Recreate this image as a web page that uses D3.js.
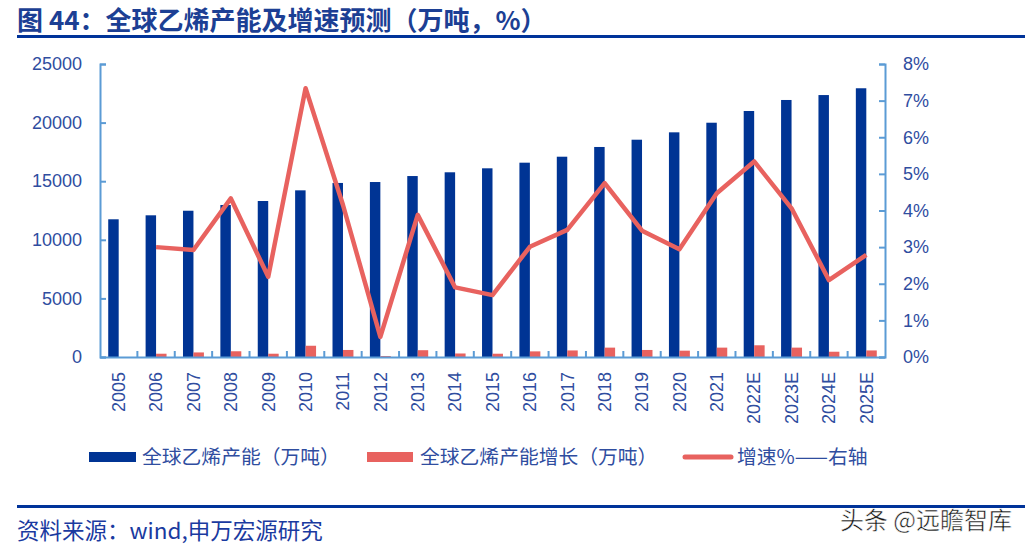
<!DOCTYPE html>
<html>
<head>
<meta charset="utf-8">
<script src="https://cdn.jsdelivr.net/npm/d3@7"></script>
<style>
  body { margin: 0; background: #fff; }
  text { font-family: "Liberation Sans", Arial, "Noto Sans CJK SC", sans-serif; }
  .cjk { font-family: "Noto Sans CJK SC", "Liberation Sans", sans-serif; }
</style>
</head>
<body>
<div id="chart-area"></div>
<script>
// data
var years = ["2005","2006","2007","2008","2009","2010","2011","2012","2013","2014","2015",
             "2016","2017","2018","2019","2020","2021","2022E","2023E","2024E","2025E"]
var capacity = [11750,12090,12480,12970,13310,14220,14850,14930,15440,15760,16100,
                16580,17090,17920,18540,19170,19990,20990,21930,22350,22930]
var growth = [0,280,390,490,280,960,600,80,580,300,280,
              480,560,800,600,540,800,1000,800,450,560]
var rate = [null,3.0,2.92,4.33,2.19,7.34,4.15,0.55,3.88,1.9,1.69,
            3.01,3.47,4.75,3.45,2.94,4.47,5.34,4.06,2.1,2.79]
var leftTicks = [0,5000,10000,15000,20000,25000]
var rightTicks = [0,1,2,3,4,5,6,7,8]

var navy = "#003494"
var coral = "#e8625f"
var axisColor = "#5b9bd5"
var labelColor = "#2f4d9f"

//Canvas
var svg = d3.select("#chart-area")
    .append("svg")
        .attr("width",1025)
        .attr("height",550)

//Title + rules
svg.append("text")
    .attr("class","cjk")
    .attr("x",17)
    .attr("y",30)
    .attr("font-size","26px")
    .attr("font-weight","bold")
    .attr("fill","#1c3f94")
    .text("图 44：全球乙烯产能及增速预测（万吨，%）")

svg.append("rect").attr("x",17).attr("y",35).attr("width",1008).attr("height",3).attr("fill","#003399")
svg.append("rect").attr("x",17).attr("y",505).attr("width",1008).attr("height",3).attr("fill","#003399")

svg.append("text")
    .attr("class","cjk")
    .attr("x",17)
    .attr("y",539)
    .attr("font-size","22.5px")
    .attr("fill","#1a3aa0")
    .text("资料来源：wind,申万宏源研究")

svg.append("text")
    .attr("class","cjk")
    .attr("x",1012)
    .attr("y",529)
    .attr("text-anchor","end")
    .attr("font-size","24px")
    .attr("fill","#111")
    .attr("stroke","#fff")
    .attr("stroke-width",0.5)
    .text("头条 @远瞻智库")

//Scales
var x = d3.scaleBand()
    .domain(years)
    .range([100,885])
    .paddingInner(0.44)
    .paddingOuter(0.22)

var x1 = d3.scaleBand()
    .domain(["cap","inc"])
    .range([0,x.bandwidth()])

var y = d3.scaleLinear().domain([0,25000]).range([357,64])
var y2 = d3.scaleLinear().domain([0,8]).range([357,64])

//Bars
svg.append("g").selectAll("rect")
    .data(years)
    .enter().append("rect")
        .attr("x",(d)=>x(d) + x1("cap"))
        .attr("y",(d,i)=>y(capacity[i]))
        .attr("width",x1.bandwidth())
        .attr("height",(d,i)=>y(0) - y(capacity[i]))
        .attr("fill",navy)

svg.append("g").selectAll("rect")
    .data(years)
    .enter().append("rect")
        .attr("x",(d)=>x(d) + x1("inc"))
        .attr("y",(d,i)=>y(growth[i]))
        .attr("width",x1.bandwidth())
        .attr("height",(d,i)=>y(0) - y(growth[i]))
        .attr("fill",coral)

//Axes
var leftAxis = svg.append("g")
    .attr("transform","translate(100,0)")
    .call(d3.axisLeft(y).tickValues(leftTicks).tickSize(-6).tickPadding(18)
        .tickFormat(d3.format("d")))
var rightAxis = svg.append("g")
    .attr("transform","translate(885,0)")
    .call(d3.axisRight(y2).tickValues(rightTicks).tickSize(-6).tickPadding(18)
        .tickFormat((d)=>d + "%"))

var bottomAxis = svg.append("g")
    .attr("transform","translate(0,357)")
    .call(d3.axisBottom(x).tickSize(0).tickPadding(0))

;[leftAxis,rightAxis,bottomAxis].forEach((g)=>{
    g.select(".domain").attr("stroke",axisColor).attr("stroke-width",2)
    g.selectAll(".tick line").attr("stroke",axisColor).attr("stroke-width",2)
    g.selectAll("text")
        .attr("fill",labelColor)
        .attr("font-size","18px")
        .attr("font-family","'Liberation Sans', Arial, sans-serif")
})

bottomAxis.selectAll("text")
    .attr("text-anchor","end")
    .attr("transform","translate(0,15) rotate(-90)")
    .attr("x",0)
    .attr("y",0)
    .attr("dy","0.35em")

//category boundary ticks
var boundaries = years.slice(1).map((d)=>x(d) - x.step() * 0.22)
svg.append("g").selectAll("line")
    .data(boundaries)
    .enter().append("line")
        .attr("x1",(d)=>d).attr("x2",(d)=>d)
        .attr("y1",351).attr("y2",357)
        .attr("stroke",axisColor)
        .attr("stroke-width",2)

//Growth rate line
var line = d3.line()
    .defined((d)=>d != null)
    .x((d,i)=>x(years[i]) + x.bandwidth()/2)
    .y((d)=>y2(d))

svg.append("path")
    .datum(rate)
    .attr("d",line)
    .attr("fill","none")
    .attr("stroke",coral)
    .attr("stroke-width",4.5)
    .attr("stroke-linejoin","round")

//Legend
var legend = svg.append("g")
legend.append("rect").attr("x",89).attr("y",452).attr("width",47).attr("height",10).attr("fill",navy)
legend.append("rect").attr("x",367).attr("y",452).attr("width",46).attr("height",10).attr("fill",coral)
legend.append("line").attr("x1",685).attr("x2",731).attr("y1",457).attr("y2",457)
    .attr("stroke",coral).attr("stroke-width",5).attr("stroke-linecap","round")

var legendItems = [
    {x:142, label:"全球乙烯产能（万吨）"},
    {x:420, label:"全球乙烯产能增长（万吨）"},
    {x:737, label:"增速%——右轴"}
]
legend.selectAll("text")
    .data(legendItems)
    .enter().append("text")
        .attr("class","cjk")
        .attr("x",(d)=>d.x)
        .attr("y",464)
        .attr("font-size","19.8px")
        .attr("fill",labelColor)
        .text((d)=>d.label)
</script>
</body>
</html>
